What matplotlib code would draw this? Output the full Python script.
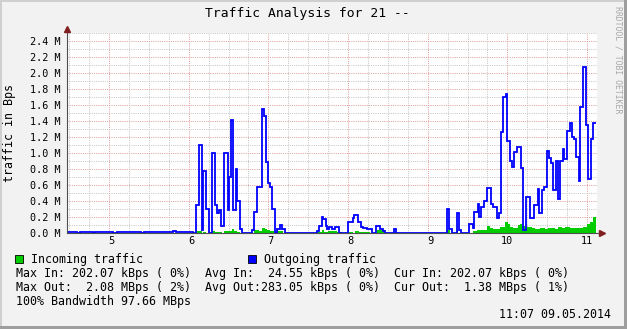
import matplotlib
matplotlib.use("Agg")
import matplotlib.pyplot as plt
from matplotlib.patches import Rectangle
from matplotlib.ticker import MultipleLocator, FuncFormatter

# Outgoing traffic (MBps), step starts in hours of day
out_start = [4.473, 4.600, 4.640, 4.800, 4.830, 5.050, 5.100, 5.400, 5.440, 5.800,
             5.840, 6.051, 6.092, 6.133, 6.167, 6.180, 6.214, 6.251, 6.297, 6.334,
             6.359, 6.384, 6.410, 6.447, 6.490, 6.502, 6.531, 6.560, 6.594, 6.607,
             6.648, 6.673, 6.791, 6.820, 6.854, 6.917, 6.950, 6.975, 7.000, 7.020,
             7.050, 7.080, 7.112, 7.150, 7.171, 7.209, 7.400, 7.430, 7.607, 7.640,
             7.670, 7.690, 7.720, 7.740, 7.765, 7.795, 7.840, 7.891, 8.004, 8.066,
             8.079, 8.129, 8.157, 8.192, 8.238, 8.297, 8.351, 8.402, 8.443, 8.464,
             8.577, 8.602, 8.800, 8.830, 9.239, 9.271, 9.301, 9.364, 9.389, 9.414,
             9.522, 9.565, 9.585, 9.628, 9.644, 9.669, 9.711, 9.741, 9.791, 9.824,
             9.866, 9.895, 9.917, 9.945, 9.978, 9.994, 10.033, 10.055, 10.087, 10.117,
             10.171, 10.200, 10.230, 10.284, 10.338, 10.381, 10.401, 10.431, 10.460, 10.494,
             10.527, 10.544, 10.577, 10.607, 10.632, 10.661, 10.695, 10.715, 10.749, 10.786,
             10.808, 10.837, 10.862, 10.899, 10.912, 10.953, 10.987, 11.016, 11.046, 11.071]
out_mbps = [0.012, 0.004, 0.012, 0.004, 0.012, 0.004, 0.012, 0.004, 0.012, 0.030,
            0.012, 0.010, 0.35, 1.11, 0.04, 0.78, 0.30, 0.01, 1.00, 0.35,
            0.26, 0.29, 0.09, 1.00, 0.29, 0.71, 1.42, 0.29, 0.81, 0.40,
            0.05, 0.01, 0.04, 0.27, 0.58, 1.56, 1.47, 0.89, 0.63, 0.575,
            0.30, 0.01, 0.05, 0.10, 0.05, 0.01, 0.004, 0.01, 0.03, 0.09,
            0.21, 0.18, 0.09, 0.06, 0.08, 0.06, 0.075, 0.01, 0.14, 0.19,
            0.225, 0.14, 0.08, 0.07, 0.05, 0.01, 0.09, 0.06, 0.03, 0.01,
            0.05, 0.01, 0.004, 0.01, 0.31, 0.05, 0.01, 0.25, 0.04, 0.01,
            0.12, 0.07, 0.27, 0.37, 0.21, 0.33, 0.40, 0.57, 0.37, 0.33,
            0.19, 0.26, 1.27, 1.70, 1.74, 1.16, 0.90, 0.83, 1.02, 1.08,
            0.82, 0.04, 0.46, 0.19, 0.35, 0.56, 0.26, 0.54, 0.58, 1.03,
            0.94, 0.875, 0.54, 0.90, 0.43, 0.90, 1.05, 0.93, 1.28, 1.38,
            1.20, 1.18, 0.95, 0.66, 1.58, 2.075, 1.35, 0.675, 1.175, 1.375]

# Incoming traffic (MBps)
in_start = [4.473, 6.092, 6.167, 6.184, 6.218, 6.297, 6.334, 6.415, 6.447, 6.540,
            6.565, 6.603, 6.648, 6.820, 6.883, 6.917, 6.958, 6.987, 7.021, 7.071,
            7.112, 7.188, 7.607, 7.670, 7.698, 7.745, 7.858, 7.921, 8.004, 8.066,
            8.088, 8.142, 8.276, 8.360, 8.464, 8.565, 8.611, 9.246, 9.280, 9.364,
            9.384, 9.406, 9.573, 9.615, 9.657, 9.741, 9.782, 9.824, 9.908, 9.971,
            10.012, 10.033, 10.075, 10.137, 10.159, 10.180, 10.222, 10.243, 10.306, 10.347,
            10.410, 10.473, 10.514, 10.598, 10.640, 10.682, 10.724, 10.786, 10.828, 10.953,
            10.996, 11.037, 11.071]
in_mbps = [0.004, 0.03, 0.005, 0.02, 0.005, 0.03, 0.015, 0.005, 0.025, 0.06,
           0.03, 0.02, 0.004, 0.04, 0.03, 0.07, 0.06, 0.04, 0.03, 0.004,
           0.035, 0.004, 0.02, 0.04, 0.02, 0.035, 0.02, 0.004, 0.02, 0.01,
           0.035, 0.02, 0.004, 0.04, 0.004, 0.015, 0.004, 0.04, 0.004, 0.04,
           0.004, 0.01, 0.03, 0.0375, 0.046, 0.092, 0.0625, 0.05, 0.083, 0.146,
           0.1125, 0.079, 0.071, 0.104, 0.1125, 0.092, 0.071, 0.083, 0.0625, 0.05,
           0.0625, 0.05, 0.0625, 0.05, 0.079, 0.0625, 0.079, 0.067, 0.071, 0.083,
           0.1125, 0.146, 0.202]
LAST_UPDATE = 11.109

TITLE = "Traffic Analysis for 21 --"
STATS = [
    "Max In: 202.07 kBps ( 0%)  Avg In:  24.55 kBps ( 0%)  Cur In: 202.07 kBps ( 0%)",
    "Max Out:  2.08 MBps ( 2%)  Avg Out:283.05 kBps ( 0%)  Cur Out:  1.38 MBps ( 1%)",
    "100% Bandwidth 97.66 MBps",
]
STAMP = "11:07 09.05.2014"

W, H = 627, 329
plt.rcParams["font.family"] = "DejaVu Sans Mono"


def fpos(x, y):
    # pixel (from top-left) -> figure fraction
    return x / W, 1 - y / H


fig = plt.figure(figsize=(W / 100, H / 100), dpi=100)
fig.patch.set_facecolor("#F2F2F2")

ax = fig.add_axes([67 / W, 1 - 233.3 / H, 530 / W, 200 / H])
ax.set_facecolor("white")
ax.set_xlim(4.473, 11.125)
ax.set_ylim(0, 2.5)
for s in ax.spines.values():
    s.set_visible(False)

ax.xaxis.set_major_locator(MultipleLocator(1))
ax.xaxis.set_minor_locator(MultipleLocator(0.25))
ax.yaxis.set_major_locator(MultipleLocator(0.2))
ax.yaxis.set_minor_locator(MultipleLocator(0.1))
ax.xaxis.set_major_formatter(FuncFormatter(lambda v, _: f"{int(round(v)):2d}"))
ax.yaxis.set_major_formatter(FuncFormatter(lambda v, _: f"{v:.1f} M"))
ax.tick_params(which="both", length=0, labelsize=7.3)
ax.tick_params(axis="y", pad=4.3)
ax.tick_params(axis="x", pad=2.2)
# dotted rrdtool-style grid
ax.grid(which="minor", color="#C6C6C6", lw=0.72, ls=(0, (1, 1.2)))
ax.grid(which="major", color="#E09E9E", lw=0.72, ls=(0, (1, 1.2)))
ax.set_axisbelow(True)

ax.stairs(in_mbps, in_start + [LAST_UPDATE], fill=True, color="#00CC00", lw=0, zorder=2)
ax.stairs(out_mbps, out_start + [LAST_UPDATE], baseline=None, color="#0000FF", lw=1.3, zorder=3)

# axes with arrows
ax.plot([0, 0], [0, 1.02], transform=ax.transAxes, color="#505050", lw=0.8, clip_on=False, zorder=4)
ax.plot([0, 1.01], [0, 0], transform=ax.transAxes, color="#505050", lw=0.8, clip_on=False, zorder=4)
ax.plot([0], [1.02], transform=ax.transAxes, marker="^", ms=4, color="#7F1F1F", clip_on=False, zorder=5)
ax.plot([1.01], [0], transform=ax.transAxes, marker=">", ms=4, color="#7F1F1F", clip_on=False, zorder=5)

fig.text(*fpos(307.5, 14), TITLE, ha="center", va="center", fontsize=9.4)
fig.text(*fpos(10, 133), "traffic in Bps", rotation=90, ha="center", va="center", fontsize=8.4)
fig.text(*fpos(618, 60), "RRDTOOL / TOBI OETIKER", rotation=270, ha="center", va="center",
         fontsize=5.9, color="#A8A8A8")

# legend
for x0, col, label, tx in [(15, "#00CC00", "Incoming traffic", 31), (248, "#0000FF", "Outgoing traffic", 264)]:
    fx, fy = fpos(x0, 263)
    fig.add_artist(Rectangle((fx, fy), 8 / W, 8 / H, transform=fig.transFigure,
                             facecolor=col, edgecolor="black", lw=0.6))
    fig.text(*fpos(tx, 259), label, ha="left", va="center", fontsize=8.4)
for i, line in enumerate(STATS):
    fig.text(*fpos(16.5, 273 + 14 * i), line, ha="left", va="center", fontsize=8.4)
fig.text(*fpos(611, 315), STAMP, ha="right", va="center", fontsize=8.4)

# 3d frame
for (x0, y0, w, h, col) in [(0, 0, 627, 2, "#CFCFCF"), (0, 0, 2, 329, "#CFCFCF"),
                            (624, 0, 3, 329, "#9E9E9E"), (0, 326, 627, 3, "#9E9E9E")]:
    fx, fy = fpos(x0, y0 + h)
    fig.add_artist(Rectangle((fx, fy), w / W, h / H, transform=fig.transFigure,
                             facecolor=col, edgecolor="none"))

fig.savefig("out.png", dpi=100)
